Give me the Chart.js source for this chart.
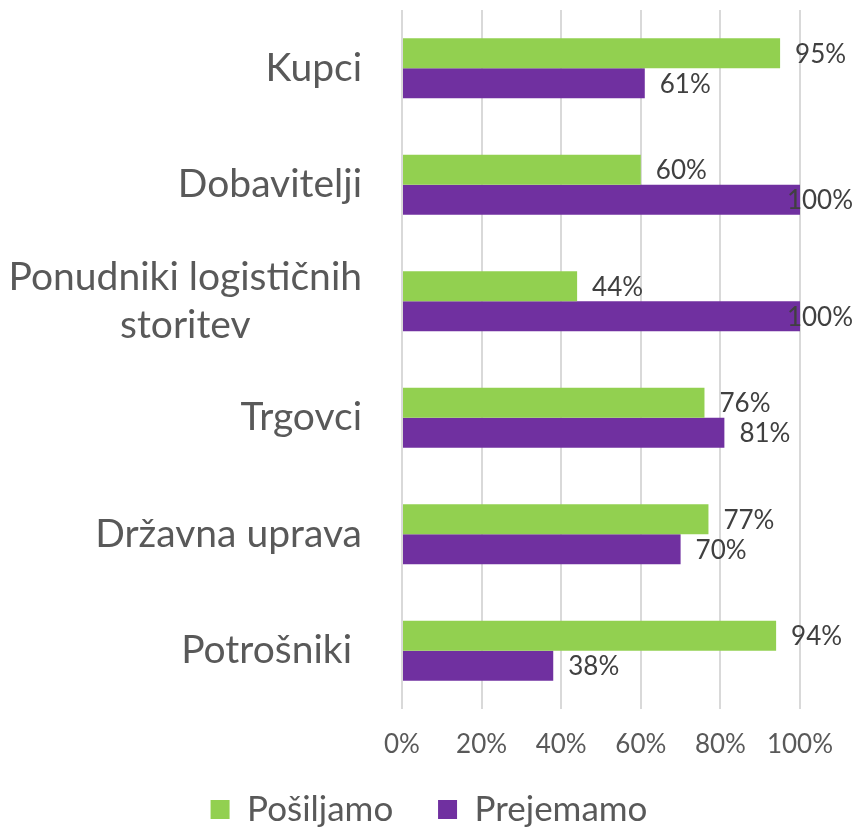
<!DOCTYPE html>
<html>
<head>
<meta charset="utf-8">
<script src="https://cdn.jsdelivr.net/npm/chart.js@4.4.1/dist/chart.umd.min.js"></script>
<style>
  html, body { margin: 0; padding: 0; background: #ffffff; }
  #wrap { width: 858px; height: 827px; }
</style>
</head>
<body>
<div id="wrap"><canvas id="my-chart" width="858" height="827"></canvas></div>
<script>
'use strict';

// ******** DATA **************
let categories = [
  ['Kupci'],
  ['Dobavitelji'],
  ['Ponudniki logističnih', 'storitev'],
  ['Trgovci'],
  ['Državna uprava'],
  ['Potrošniki ']
];
let posiljamo = [95, 60, 44, 76, 77, 94];
let prejemamo = [61, 100, 100, 81, 70, 38];
let seriesNames = ['Pošiljamo', 'Prejemamo'];
let tickValues = [0, 20, 40, 60, 80, 100];

// ******** STYLE **************
let fontFamily = 'Lato, "Open Sans", sans-serif';
let green = '#92d050';
let purple = '#7030a0';

// category labels drawn by hand so the two-line one is centred under itself
let categoryLabels = {
  id: 'categoryLabels',
  afterDraw(chart) {
    let ctx = chart.ctx;
    let yScale = chart.scales.y;
    let right = chart.chartArea.left - 40;
    ctx.save();
    ctx.font = '39px ' + fontFamily;
    ctx.fillStyle = '#595959';
    ctx.textAlign = 'center';
    ctx.textBaseline = 'middle';
    let lineH = 48;
    for (let i = 0; i < categories.length; i++) {
      let lines = categories[i];
      let w = 0;
      for (let j = 0; j < lines.length; j++) {
        w = Math.max(w, ctx.measureText(lines[j]).width);
      }
      let cx = right - w / 2;
      let cy = yScale.getPixelForTick(i) - (lines.length - 1) * lineH / 2;
      for (let j = 0; j < lines.length; j++) {
        ctx.fillText(lines[j], cx, cy + j * lineH);
      }
    }
    ctx.restore();
  }
};

// value labels at the end of each bar
let valueLabels = {
  id: 'valueLabels',
  afterDatasetsDraw(chart) {
    let ctx = chart.ctx;
    ctx.save();
    ctx.font = '26px ' + fontFamily;
    ctx.fillStyle = '#404040';
    ctx.textAlign = 'left';
    ctx.textBaseline = 'middle';
    chart.data.datasets.forEach((ds, d) => {
      let meta = chart.getDatasetMeta(d);
      meta.data.forEach((bar, i) => {
        let txt = ds.data[i] + '%';
        let w = ctx.measureText(txt).width;
        let x = Math.min(bar.x + 15, 853 - w);
        ctx.fillText(txt, x, bar.y + 1);
      });
    });
    ctx.restore();
  }
};

let canvasElem = document.getElementById('my-chart');

new Chart(canvasElem, {
  type: 'bar',
  data: {
    labels: categories.map(c => c.join(' ')),
    datasets: [
      { label: seriesNames[0], data: posiljamo, backgroundColor: green, borderWidth: 0 },
      { label: seriesNames[1], data: prejemamo, backgroundColor: purple, borderWidth: 0 }
    ]
  },
  options: {
    indexAxis: 'y',
    responsive: false,
    animation: false,
    layout: { padding: { top: 10, right: 0, bottom: -10, left: 0 } },
    datasets: {
      bar: { categoryPercentage: 0.515, barPercentage: 1 }
    },
    scales: {
      x: {
        min: 0,
        max: 100,
        afterBuildTicks(scale) {
          scale.ticks = tickValues.map(v => ({ value: v }));
        },
        afterFit(scale) { scale.height = 83; },
        grid: { color: '#d9d9d9', lineWidth: 2, drawTicks: false },
        border: { display: false },
        ticks: {
          color: '#595959',
          padding: 20,
          font: { family: fontFamily, size: 26 },
          callback: v => v + '%'
        }
      },
      y: {
        grid: { display: false },
        border: { display: false },
        ticks: { display: false },
        afterFit(scale) { scale.width = 402; }
      },
      // empty axis that only keeps room for the value labels on the right
      yRight: {
        type: 'linear',
        position: 'right',
        grid: { display: false },
        border: { display: false },
        ticks: { display: false },
        afterFit(scale) { scale.width = 58; }
      }
    },
    plugins: {
      legend: {
        position: 'bottom',
        labels: {
          color: '#595959',
          boxWidth: 19,
          boxHeight: 19,
          padding: 0,
          font: { family: fontFamily, size: 35 },
          generateLabels(chart) {
            let items = Chart.defaults.plugins.legend.labels.generateLabels(chart);
            // gap between the two legend entries
            items[0].text = items[0].text + '     ';
            return items;
          }
        }
      },
      tooltip: { enabled: false }
    }
  },
  plugins: [categoryLabels, valueLabels]
});
</script>
</body>
</html>
